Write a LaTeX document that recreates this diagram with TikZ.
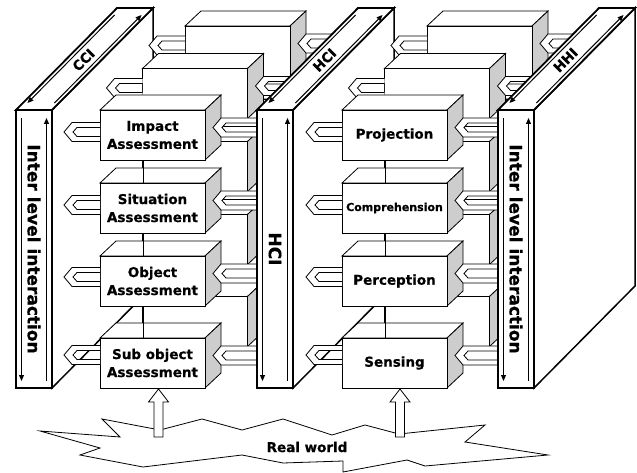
\documentclass[tikz,border=0pt]{standalone}
\usepackage{fontspec}
\setmainfont{DejaVu Sans}[BoldFont={DejaVu Sans Bold},BoldFeatures={FakeBold=0.6}]
\usetikzlibrary{arrows.meta}
\definecolor{sidegray}{RGB}{205,205,205}
\tikzset{
  thinln/.style={line width=0.8pt, line join=miter},
  pthick/.style={line width=1.8pt, line join=miter},
  pline/.style={line width=1pt, -{Triangle[length=6pt,width=5pt]}},
  boxlabel/.style={font=\bfseries\fontsize{13.5}{18}\selectfont, align=center, inner sep=0pt},
  smalllabel/.style={font=\bfseries\fontsize{11}{13}\selectfont, align=center, inner sep=0pt},
  toplabel/.style={font=\bfseries\fontsize{13.5}{15}\selectfont, inner sep=0pt},
  frontlabel/.style={font=\bfseries\fontsize{17}{19}\selectfont, inner sep=0pt},
}
\newcommand{\mycube}[2]{%
  \begin{scope}[shift={(#1,#2)}]
    \filldraw[thinln, fill=white] (0,0) -- (16,-15) -- (121,-15) -- (105,0) -- cycle;
    \filldraw[thinln, fill=sidegray] (105,0) -- (121,-15) -- (121,35) -- (105,50) -- cycle;
    \filldraw[thinln, fill=white] (0,0) rectangle (105,50);
  \end{scope}}
\newcommand{\dblarrow}[3]{%
  \begin{scope}[shift={(#1,#2)}]
    \fill[white, even odd rule] (0,0) -- (8,-9.5) -- ({#3-#1},-9.5) -- ({#3-#1},9.5) -- (8,9.5) -- cycle
       (13,-4.5) -- ({#3-#1},-4.5) -- ({#3-#1},4.5) -- (13,4.5) -- (9,0) -- cycle;
    \draw[thinln] ({#3-#1},-9.5) -- (8,-9.5) -- (0,0) -- (8,9.5) -- ({#3-#1},9.5);
    \draw[thinln] ({#3-#1},-4.5) -- (13,-4.5) -- (9,0) -- (13,4.5) -- ({#3-#1},4.5);
  \end{scope}}
\newcommand{\uparr}[1]{%
  \filldraw[thinln, fill=white] (#1,389) -- ({#1+10},402) -- ({#1+4.5},402) -- ({#1+4.5},437)
     -- ({#1-4.5},437) -- ({#1-4.5},402) -- ({#1-10},402) -- cycle;}
\newcommand{\panelat}[4]{%
  \filldraw[line width=1.5pt, fill=white, line join=miter] ({#1+36},110) -- ({#1+137},8) -- ({#1+137},286) -- ({#1+36},388) -- cycle;
  \filldraw[pthick, fill=white] (#1,110) -- ({#1+101},8) -- ({#1+137},8) -- ({#1+36},110) -- cycle;
  \filldraw[pthick, fill=white] (#1,110) rectangle ({#1+36},388);
  \draw[pline] ({#1+4.5+95*0.99},15) -- ({#1+4.5+7*0.99},103);
  \draw[pline] ({#1+31.5+7*0.99},103) -- ({#1+31.5+95*0.99},15);
  \draw[pline] ({#1+5.5},118) -- ({#1+5.5},381);
  \draw[pline] ({#1+30.5},381) -- ({#1+30.5},118);
  \node[toplabel, rotate=45] (#4top) at ({#1+18+50*0.99},60) {#2};
  \node[frontlabel, rotate=-90] (#4front) at ({#1+18},249) {#3};
}
\begin{document}
\begin{tikzpicture}[x=1pt,y=-1pt]
\useasboundingbox (0,0) rectangle (637,473);
\fill[white] (0,0) rectangle (637,473);

% ---------- CCI panel
\panelat{16}{CCI}{Inter level interaction}{cci}

% ---------- left section
\mycube{185}{26}\mycube{185}{99}\mycube{185}{172}\mycube{185}{254}
\dblarrow{149}{45.5}{185}
\dblarrow{298}{43.5}{350}
\mycube{142.5}{68.5}\mycube{142.5}{141.5}\mycube{142.5}{214.5}\mycube{142.5}{296.5}
\dblarrow{106.5}{88}{142.5}
\dblarrow{255.5}{86}{310}
\mycube{100}{110}\mycube{100}{183}\mycube{100}{256}\mycube{100}{338}
\dblarrow{64}{132}{100}\dblarrow{64}{205}{100}\dblarrow{64}{277}{100}\dblarrow{64}{355}{100}
\dblarrow{213}{127.5}{258}\dblarrow{213}{200.5}{258}\dblarrow{213}{273.5}{258}\dblarrow{213}{355.5}{258}
\draw[thinln] (143,160) -- (143,183) (143,233) -- (143,256) (143,306) -- (143,338);
\node[boxlabel] (imp) at (152.5,135) {Impact\\Assessment};
\node[boxlabel] (sit) at (152.5,208) {Situation\\Assessment};
\node[boxlabel] (obj) at (152.5,281) {Object\\Assessment};
\node[boxlabel] (sub) at (152.5,363) {Sub object\\Assessment};

% ---------- HCI panel
\panelat{257}{HCI}{HCI}{hci}

% ---------- middle section
\mycube{427}{26}\mycube{427}{99}\mycube{427}{172}\mycube{427}{254}
\dblarrow{391}{45.5}{427}
\dblarrow{540}{43.5}{595}
\mycube{384.5}{68.5}\mycube{384.5}{141.5}\mycube{384.5}{214.5}\mycube{384.5}{296.5}
\dblarrow{348.5}{88}{384.5}
\dblarrow{497.5}{86}{550}
\mycube{342}{110}\mycube{342}{183}\mycube{342}{256}\mycube{342}{338}
\dblarrow{306}{132}{342}\dblarrow{306}{205}{342}\dblarrow{306}{277}{342}\dblarrow{306}{355}{342}
\dblarrow{455}{127.5}{499}\dblarrow{455}{200.5}{499}\dblarrow{455}{273.5}{499}\dblarrow{455}{355.5}{499}
\draw[thinln] (385,160) -- (385,183) (385,233) -- (385,256) (385,306) -- (385,338);
\node[boxlabel] (proj) at (394.5,135) {Projection};
\node[smalllabel] (comp) at (394.5,208) {Comprehension};
\node[boxlabel] (perc) at (394.5,281) {Perception};
\node[boxlabel] (sens) at (394.5,363) {Sensing};

% ---------- HHI panel
\panelat{498}{HHI}{Inter level interaction}{hhi}

% ---------- real world
\filldraw[thinln, fill=white] (40,431) -- (120,437) -- (102,419) -- (160,430) -- (202,419) -- (242,430)
  -- (283,419) -- (332,435) -- (365,425) -- (399,434) -- (485,425) -- (465,442) -- (548,455)
  -- (425,466) -- (407,460) -- (343,472) -- (343,461) -- (283,463) -- (242,455) -- (143,467)
  -- (80,455) -- (100,448) -- cycle;
\node[boxlabel] (rw) at (307,447) {Real world};
\uparr{158.5}
\uparr{400}
\end{tikzpicture}
\end{document}
